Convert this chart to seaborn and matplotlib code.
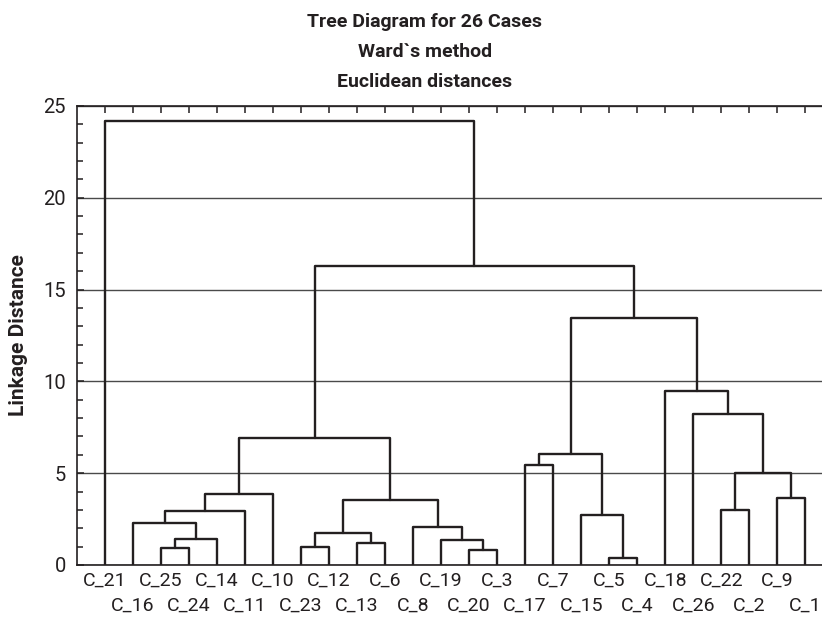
import numpy as np
import pandas as pd
import seaborn as sns
from matplotlib import pyplot as plt
from matplotlib.ticker import MultipleLocator

# leaves in the order they appear on the x axis
leaf_labels = ['C_21', 'C_16', 'C_25', 'C_24', 'C_14', 'C_11', 'C_10', 'C_23', 'C_12',
               'C_13', 'C_6', 'C_8', 'C_19', 'C_20', 'C_3', 'C_17', 'C_7', 'C_15',
               'C_5', 'C_4', 'C_18', 'C_26', 'C_22', 'C_2', 'C_9', 'C_1']

# merges: node ids < 26 are leaves (display order), >= 26 are earlier merges
merge_left = [18, 13, 2, 7, 9, 12, 28, 29, 11, 1, 17, 35, 22, 33, 24, 37, 38,
              15, 43, 41, 21, 20, 44, 45, 0]
merge_right = [19, 14, 3, 8, 10, 27, 4, 30, 31, 32, 26, 5, 23, 34, 25, 6, 40,
               16, 36, 39, 42, 46, 47, 48, 49]
merge_height = [0.40, 0.80, 0.92, 0.98, 1.20, 1.38, 1.40, 1.73, 2.07, 2.29, 2.71,
                2.93, 2.98, 3.54, 3.67, 3.85, 5.02, 5.47, 6.05, 6.89, 8.25, 9.48,
                13.44, 16.29, 24.17]

n = len(leaf_labels)
xpos = {i: i + 1 for i in range(n)}
ypos = {i: 0.0 for i in range(n)}

rows = []
for k, (a, b, h) in enumerate(zip(merge_left, merge_right, merge_height)):
    node = n + k
    xs = [xpos[a], xpos[a], xpos[b], xpos[b]]
    ys = [ypos[a], h, h, ypos[b]]
    for j in range(4):
        rows.append({'seg': k, 'order': j, 'x': xs[j], 'y': ys[j]})
    xpos[node] = (xpos[a] + xpos[b]) / 2
    ypos[node] = h

df = pd.DataFrame(rows)

sns.set_style('white')
plt.rcParams['font.family'] = ['Roboto', 'DejaVu Sans']

ink = '#231f20'
fig = plt.figure(figsize=(8.22, 6.17), dpi=100)
ax = fig.add_axes([0.0937, 0.0843, 0.92, 0.744])

ax.yaxis.grid(True, which='major', color='#4a4a4a', lw=1.0)
ax.set_axisbelow(True)

sns.lineplot(data=df, x='x', y='y', units='seg', estimator=None, sort=False,
             color=ink, lw=1.7, ax=ax, legend=False)

ax.set_xlim(0, 27)
ax.set_ylim(0, 25)
ax.yaxis.set_major_locator(MultipleLocator(5))
ax.yaxis.set_minor_locator(MultipleLocator(1))

# two label rows: odd leaves on the first row, even leaves on the second
pos = np.arange(1, n + 1)
ax.set_xticks(pos[0::2])
ax.set_xticklabels(leaf_labels[0::2], fontsize=14)
ax.set_xticks(pos[1::2], minor=True)
ax.set_xticklabels(leaf_labels[1::2], minor=True, fontsize=14)
ax.tick_params(axis='x', which='both', direction='in', top=True, bottom=False,
               length=5, width=1.1, color=ink, labelcolor=ink)
ax.tick_params(axis='x', which='major', pad=5)
ax.tick_params(axis='x', which='minor', pad=23)
ax.tick_params(axis='y', which='both', direction='in', left=True, right=False,
               width=1.1, color=ink, labelsize=14.5, labelcolor=ink, pad=8)
ax.tick_params(axis='y', which='major', length=5)
ax.tick_params(axis='y', which='minor', length=4)

for side in ['left', 'top', 'bottom', 'right']:
    ax.spines[side].set_visible(True)
    ax.spines[side].set_color(ink)
    ax.spines[side].set_linewidth(1.2)

ax.set_xlabel('')
ax.set_ylabel('Linkage Distance', fontsize=15, fontweight='bold', labelpad=11,
              color=ink)

fig.text(0.517, 0.964, 'Tree Diagram for 26 Cases', ha='center', va='center',
         fontsize=14, fontweight='bold', color=ink)
fig.text(0.517, 0.916, 'Ward`s method', ha='center', va='center',
         fontsize=14, fontweight='bold', color=ink)
fig.text(0.517, 0.867, 'Euclidean distances', ha='center', va='center',
         fontsize=14, fontweight='bold', color=ink)

fig.savefig('out.png', dpi=100)
